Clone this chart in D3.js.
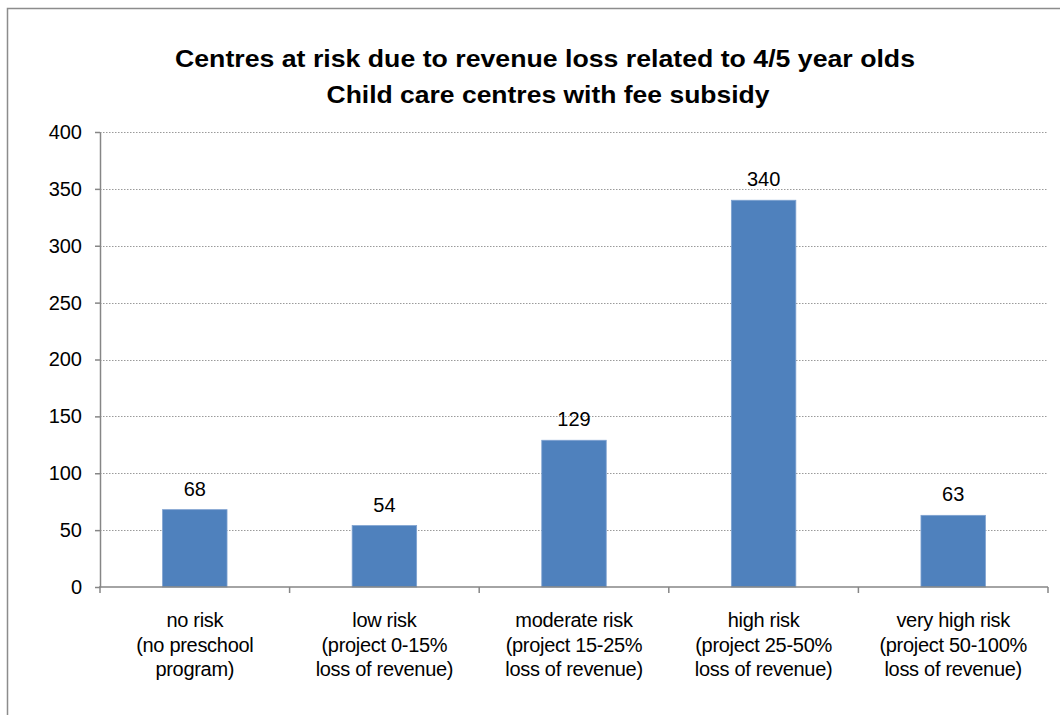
<!DOCTYPE html>
<html>
<head>
<meta charset="utf-8">
<script src="https://cdn.jsdelivr.net/npm/d3@7"></script>
<style>
  body { margin: 0; background: white; }
  text { font-family: "Liberation Sans", Arial, sans-serif; }
</style>
</head>
<body>
<div id="chart"></div>
<script>
// chart data
const categories = ["no risk", "low risk", "moderate risk", "high risk", "very high risk"];
const subLabels = [
    ["(no preschool", "program)"],
    ["(project 0-15%", "loss of revenue)"],
    ["(project 15-25%", "loss of revenue)"],
    ["(project 25-50%", "loss of revenue)"],
    ["(project 50-100%", "loss of revenue)"]
];
const centres = [68, 54, 129, 340, 63];
const yTicks = [0, 50, 100, 150, 200, 250, 300, 350, 400];
const titleLines = [
    "Centres at risk due to revenue loss related to 4/5 year olds",
    "Child care centres with fee subsidy"
];
const titleWidths = [740, 443];

const width = 1060, height = 715;
const plot = { left: 100, right: 1048, top: 132, bottom: 587 };

const svg = d3.select("#chart")
    .append("svg")
    .attr("width", width)
    .attr("height", height);

// outer frame
svg.append("rect")
    .attr("x", 7.5)
    .attr("y", 8.5)
    .attr("width", width)
    .attr("height", height)
    .attr("fill", "white")
    .attr("stroke", "#8c8c8c")
    .attr("stroke-width", 1.5);

const x = d3.scaleBand()
    .domain(categories)
    .range([plot.left, plot.right])
    .paddingInner(0.66)
    .paddingOuter(0.33);

const xTicksScale = d3.scaleLinear()
    .domain([0, categories.length])
    .range([plot.left, plot.right]);

const y = d3.scaleLinear()
    .domain([0, 400])
    .range([plot.bottom, plot.top]);

// title
svg.append("g").selectAll("text")
    .data(titleLines)
    .enter()
    .append("text")
    .attr("x", (d, i) => i === 0 ? 545 : 548)
    .attr("y", (d, i) => 67 + i * 36)
    .attr("text-anchor", "middle")
    .attr("textLength", (d, i) => titleWidths[i])
    .attr("lengthAdjust", "spacingAndGlyphs")
    .style("font-size", "24px")
    .style("font-weight", 700)
    .attr("fill", "black")
    .text(d => d);

// gridlines
svg.append("g").selectAll("line")
    .data(yTicks.filter(d => d > 0))
    .enter()
    .append("line")
    .attr("x1", plot.left)
    .attr("x2", plot.right)
    .attr("y1", d => Math.round(y(d)) + 0.5)
    .attr("y2", d => Math.round(y(d)) + 0.5)
    .attr("stroke", "#9a9a9a")
    .attr("stroke-width", 1)
    .attr("stroke-dasharray", "1.5,1.5");

// y axis
const yAxis = svg.append("g")
    .attr("transform", "translate(" + plot.left + ",0)")
    .call(d3.axisLeft(y).tickValues(yTicks).tickSize(5).tickPadding(13).tickSizeOuter(0));
yAxis.select(".domain").attr("stroke", "#868686").attr("stroke-width", 1.5);
yAxis.selectAll(".tick line").attr("stroke", "#868686").attr("stroke-width", 1.5);
yAxis.selectAll(".tick text")
    .style("font-size", "20px")
    .style("font-family", "'Liberation Sans', Arial, sans-serif")
    .attr("fill", "black");

// bars
svg.append("g").selectAll("rect")
    .data(centres)
    .enter()
    .append("rect")
    .attr("x", (d, i) => x(categories[i]))
    .attr("y", d => y(d))
    .attr("width", x.bandwidth())
    .attr("height", d => plot.bottom - y(d))
    .attr("fill", "#4f81bd")
    .attr("stroke", "#7fa2d0")
    .attr("stroke-width", 0.8);

// value labels
svg.append("g").selectAll("text")
    .data(centres)
    .enter()
    .append("text")
    .attr("x", (d, i) => x(categories[i]) + x.bandwidth() / 2)
    .attr("y", d => y(d) - 14)
    .attr("text-anchor", "middle")
    .style("font-size", "20px")
    .attr("fill", "black")
    .text(d => d);

// x axis line and ticks
svg.append("line")
    .attr("x1", plot.left - 1)
    .attr("x2", plot.right)
    .attr("y1", plot.bottom)
    .attr("y2", plot.bottom)
    .attr("stroke", "#868686")
    .attr("stroke-width", 1.5);
svg.append("g").selectAll("line")
    .data(d3.range(categories.length + 1))
    .enter()
    .append("line")
    .attr("x1", d => xTicksScale(d))
    .attr("x2", d => xTicksScale(d))
    .attr("y1", plot.bottom)
    .attr("y2", plot.bottom + 6)
    .attr("stroke", "#868686")
    .attr("stroke-width", 1.5);

// category labels
const catLabels = svg.append("g").selectAll("text")
    .data(categories)
    .enter()
    .append("text")
    .attr("text-anchor", "middle")
    .style("font-size", "20px")
    .style("letter-spacing", "-0.3px")
    .attr("fill", "black");
catLabels.each(function (d, i) {
    const lines = [d].concat(subLabels[i]);
    const cx = x(d) + x.bandwidth() / 2;
    d3.select(this).selectAll("tspan")
        .data(lines)
        .enter()
        .append("tspan")
        .attr("x", cx)
        .attr("y", (l, j) => 627 + j * 24.5)
        .text(l => l);
});
</script>
</body>
</html>
